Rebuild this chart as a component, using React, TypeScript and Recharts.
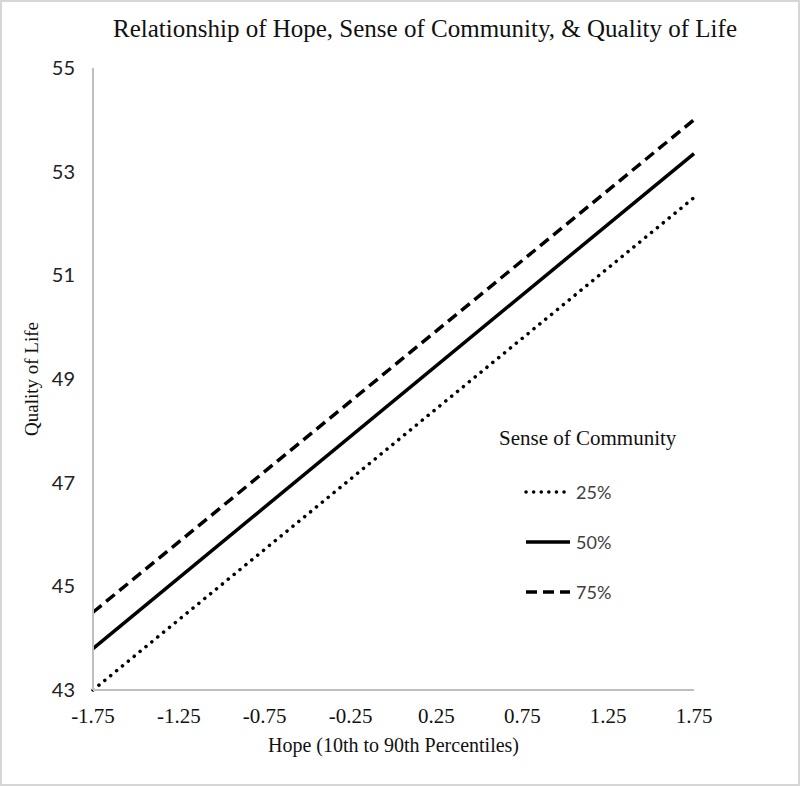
import React from 'react';
import { LineChart, Line, XAxis, YAxis, Label } from 'recharts';

// values
const hope = [-1.75, 1.75];
const pct25 = [43.0, 52.5];
const pct50 = [43.8, 53.35];
const pct75 = [44.5, 54.0];
const xTicks = [-1.75, -1.25, -0.75, -0.25, 0.25, 0.75, 1.25, 1.75];
const yTicks = [43, 45, 47, 49, 51, 53, 55];

const series = [
  { key: 'p25', name: '25%', dash: '0.1 7.5', cap: 'round' as const },
  { key: 'p50', name: '50%', dash: undefined, cap: 'butt' as const },
  { key: 'p75', name: '75%', dash: '11 6', cap: 'butt' as const },
];

const data = hope.map((h, i) => ({ hope: h, p25: pct25[i], p50: pct50[i], p75: pct75[i] }));

const serif = '"Liberation Serif", "Times New Roman", serif';
const sans = 'Lato, "Open Sans", sans-serif';

const LegendBox = () => (
  <div style={{ position: 'absolute', left: 497, top: 424, fontFamily: serif }}>
    <div style={{ fontSize: 21, color: '#111', marginBottom: 16 }}>Sense of Community</div>
    {series.map((s) => (
      <div key={s.key} style={{ display: 'flex', alignItems: 'center', height: 50, paddingLeft: 24 }}>
        <svg width={50} height={10}>
          <line x1={3} y1={5} x2={47} y2={5} stroke="#000" strokeWidth={3.5}
            strokeDasharray={s.dash} strokeLinecap={s.cap} />
        </svg>
        <span style={{ fontFamily: sans, fontSize: 18, color: '#404040', marginLeft: 3 }}>{s.name}</span>
      </div>
    ))}
  </div>
);

export default function App() {
  return (
    <div style={{ position: 'absolute', left: 0, top: 0, width: 800, height: 786, background: '#fff',
      border: '2px solid #d6d6d6', boxSizing: 'border-box' }}>
      <div style={{ position: 'absolute', left: 0, top: 13, width: 846, textAlign: 'center',
        fontFamily: serif, fontSize: 25, color: '#111' }}>
        Relationship of Hope, Sense of Community, &amp; Quality of Life
      </div>
      <LineChart width={796} height={782} data={data} style={{ position: 'absolute', left: 0, top: 0 }}
        margin={{ top: 66, right: 104, bottom: 26, left: 51 }}>
        <XAxis dataKey="hope" type="number" domain={[-1.75, 1.75]} ticks={xTicks}
          tickFormatter={(v: number) => v.toFixed(2)} stroke="#bfbfbf" strokeWidth={2} tickLine={false}
          tick={{ fill: '#111', fontFamily: serif, fontSize: 21 }} tickMargin={12} height={68}>
          <Label value="Hope (10th to 90th Percentiles)" position="insideBottom" offset={6}
            style={{ fill: '#111', fontFamily: serif, fontSize: 20 }} />
        </XAxis>
        <YAxis type="number" domain={[43, 55]} ticks={yTicks} width={40} stroke="#bfbfbf" strokeWidth={2}
          tickLine={false} tick={{ fill: '#222', fontFamily: sans, fontSize: 20 }} tickMargin={12}>
          <Label value="Quality of Life" angle={-90} position="insideLeft" offset={-22}
            style={{ fill: '#111', fontFamily: serif, fontSize: 19, textAnchor: 'middle' }} />
        </YAxis>
        {series.map((s) => (
          <Line key={s.key} dataKey={s.key} name={s.name} type="linear" stroke="#000" strokeWidth={3.5}
            strokeDasharray={s.dash} strokeLinecap={s.cap} dot={false} activeDot={false}
            isAnimationActive={false} />
        ))}
      </LineChart>
      <LegendBox />
    </div>
  );
}
